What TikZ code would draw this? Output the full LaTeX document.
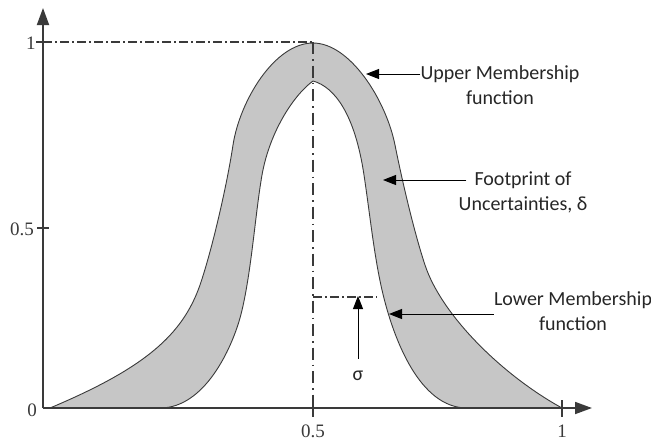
\documentclass[tikz,border=0pt]{standalone}
\usepackage{fontspec}
\setmainfont{Liberation Serif}
\newfontfamily\labelfont{Carlito}
\usetikzlibrary{arrows.meta, positioning, calc}
\definecolor{inkgray}{HTML}{3A3A3A}
\definecolor{bandgray}{HTML}{C6C6C6}
\definecolor{notetext}{HTML}{262626}

\begin{document}
\begin{tikzpicture}[
    x=1pt, y=-1pt,
    axis/.style={line width=1.8pt, inkgray, -{Triangle[length=17pt, width=12pt]}},
    tick/.style={line width=1.2pt, inkgray},
    ticklabel/.style={font=\fontsize{19}{19}\selectfont, inner sep=0pt, text=inkgray},
    curve/.style={line width=0.9pt, inkgray},
    guide/.style={line width=1.6pt, inkgray, dash pattern=on 9pt off 3pt on 2pt off 3pt},
    vguide/.style={line width=1.3pt, inkgray, dash pattern=on 12pt off 5pt on 1.5pt off 5pt},
    note/.style={font=\labelfont\fontsize{20}{24}\selectfont, inner sep=0pt, text=notetext},
    pointer/.style={line width=1pt, black, -{Triangle[length=13pt, width=10pt]}}
  ]
    \useasboundingbox (0,0) rectangle (651,440);

    \coordinate (O) at (43,408);
    \coordinate (ytop) at (43,8);
    \coordinate (xend) at (592,408);
    \coordinate (one) at (43,42);
    \coordinate (peak) at (313,42);
    \coordinate (half) at (313,408);
    \coordinate (sigbase) at (313,297);
    \coordinate (sigend) at (377,297);

    % band between upper and lower membership functions
    \draw[curve, fill=bandgray]
      (50,408) .. controls (145,368) and (182.5,335) .. (200,285)
      .. controls (212,250) and (227,185) .. (233,145)
      .. controls (240,100) and (275,43) .. (313,43)
      .. controls (350,43) and (386,100) .. (395,145)
      .. controls (403,185) and (415,235) .. (425,265)
      .. controls (441.5,315) and (502,375) .. (562,408)
      -- (467,408)
      .. controls (420,408) and (393.5,340) .. (382,290)
      .. controls (374,255) and (370,215) .. (364,175)
      .. controls (355,115) and (335,87) .. (313,81)
      .. controls (295,94) and (270,130) .. (262,175)
      .. controls (255,215) and (251,278) .. (240,318)
      .. controls (231.6,348) and (205,408) .. (160,408)
      -- cycle;

    \draw[guide] (one) -- (peak);
    \draw[vguide] (peak) -- (half);
    \draw[guide] (sigbase) -- (sigend);

    \draw[axis] (O) -- (ytop);
    \draw[axis] (O) -- (xend);

    \draw[tick] (36,42) -- (one);
    \draw[tick] (37,228) -- (49,228);
    \draw[tick] (313,400) -- (313,417);
    \draw[tick] (562,400) -- (562,417);

    \node[ticklabel] (ylone) at (31,43) {1};
    \node[ticklabel] (ylhalf) at (22,229) {0.5};
    \node[ticklabel] (ylzero) at (32,410) {0};
    \node[ticklabel] (xlhalf) at (313,431) {0.5};
    \node[ticklabel] (xlone) at (562,431) {1};

    \node[note] (upper) at (500,74) {Upper Membership};
    \node[note, below=8pt of upper] (upperfn) {function};
    \node[note] (foot) at (523,180) {Footprint of};
    \node[note, below=8pt of foot] (footun) {Uncertainties, δ};
    \node[note] (lower) at (573,300) {Lower Membership};
    \node[note, below=8pt of lower] (lowerfn) {function};
    \node[note] (sigma) at (358,376) {σ};

    \coordinate (uptip) at (366,74);
    \coordinate (foottip) at (383,180);
    \coordinate (lowtip) at (389,314);
    \coordinate (sigtip) at (358,296);

    \draw[pointer] (upper.west |- uptip) -- (uptip);
    \draw[pointer] ([xshift=-8pt]foot.west |- foottip) -- (foottip);
    \draw[pointer] (lower.south west |- lowtip) -- (lowtip);
    \draw[pointer] ([yshift=12pt]sigma.north) -- (sigtip);
  \end{tikzpicture}
\end{document}
